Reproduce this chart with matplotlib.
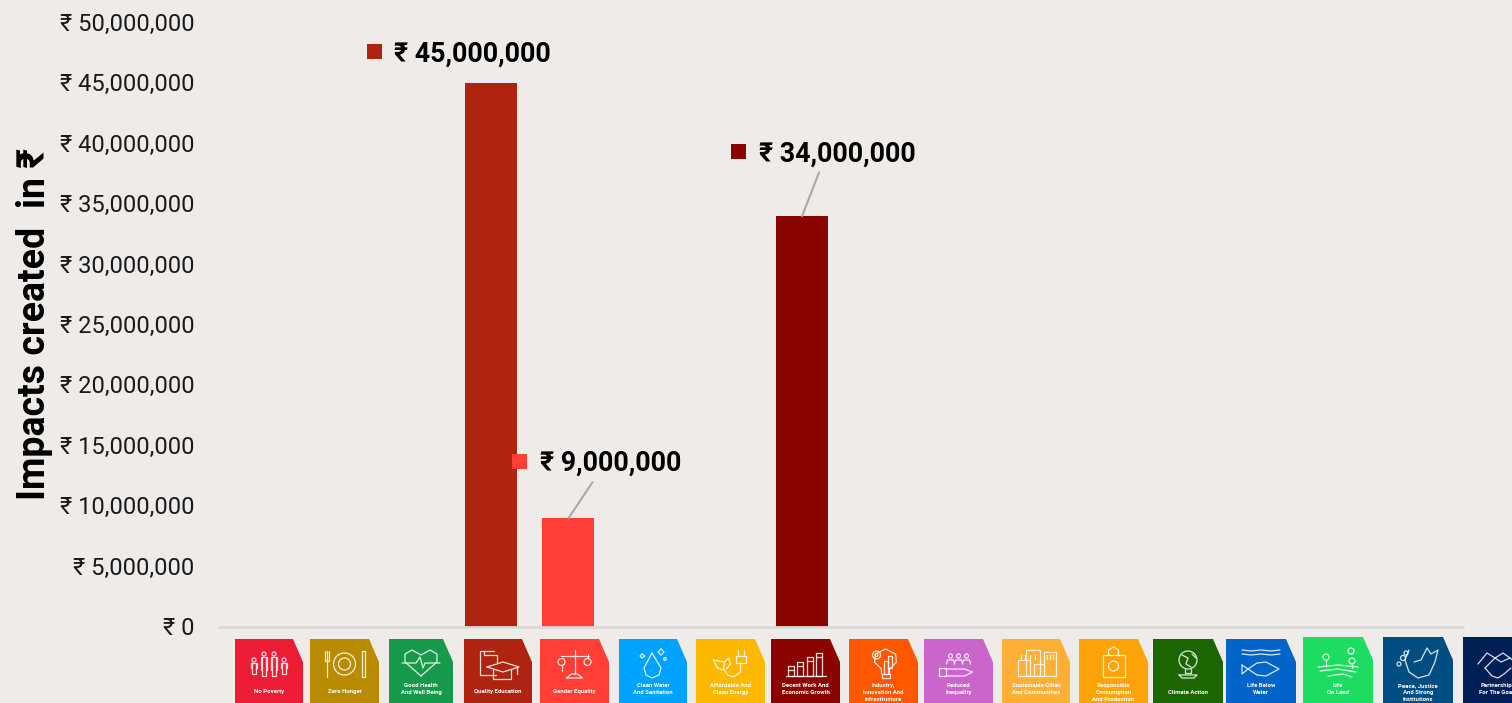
import matplotlib
matplotlib.use("Agg")
import matplotlib.pyplot as plt
import matplotlib.patches as mpatches
from matplotlib.ticker import FuncFormatter
from matplotlib.transforms import offset_copy, ScaledTranslation

plt.rcParams["font.family"] = ["Roboto", "DejaVu Sans"]

BG = "#EEEBE8"

goals = ["No Poverty", "Zero Hunger", "Good Health\nAnd Well Being", "Quality Education",
         "Gender Equality", "Clean Water\nAnd Sanitation", "Affordable And\nClean Energy",
         "Decent Work And\nEconomic Growth", "Industry,\nInnovation And\nInfrastructure",
         "Reduced\nInequality", "Sustainable Cities\nAnd Communities",
         "Responsible\nConsumption\nAnd Production", "Climate Action", "Life Below\nWater",
         "Life\nOn Land", "Peace, Justice\nAnd Strong\nInstitutions", "Partnerships\nFor The Goals"]
goal_colors = ["#EB1C34", "#B98B00", "#16994A", "#AF2410", "#FF3F35", "#00A2FF", "#FDB900",
               "#8B0500", "#FD5700", "#C965CB", "#FDAF36", "#FFA30A", "#1B6600", "#0064C8",
               "#1DDC62", "#004D82", "#001F57"]

# the chart has 16 slots, the strip of tiles under it has 17
impacts = [0, 0, 0, 45000000, 9000000, 0, 0, 34000000, 0, 0, 0, 0, 0, 0, 0, 0]
yticks = list(range(0, 50000001, 5000000))

tile_left = [235, 310, 389, 464, 540, 619, 696, 771, 849, 924, 1002, 1079, 1153, 1226, 1303, 1383, 1463]
tile_right = [303, 379, 453, 532, 609, 687, 765, 840, 918, 993, 1070, 1148, 1223, 1296, 1373, 1453, 1533]
tile_top = [639] * 14 + [637] * 3

# label offsets in pixels from bar top: text, square, end of leader line
label_style = {
    3: ((-97, 29), (-116.5, 32), None),
    4: ((-28, 55), (-49, 57), (24, 36)),
    7: ((-43.5, 62), (-64, 65), (17, 44)),
}

fig = plt.figure(figsize=(15.12, 7.03), dpi=100)
fig.patch.set_facecolor(BG)
ax = fig.add_axes([218 / 1512, 76 / 703, 1246 / 1512, 604 / 703])
ax.set_facecolor(BG)

xs = list(range(len(impacts)))
ax.bar(xs, impacts, width=0.668, color=goal_colors[:16], zorder=2)
ax.set_xlim(-0.5, 15.5)
ax.set_ylim(0, 50000000)
ax.set_xticks([])
ax.set_yticks(yticks)
ax.yaxis.set_major_formatter(FuncFormatter(lambda v, _: f"₹ {int(v):,}"))
ax.tick_params(axis="y", length=0, pad=17, labelsize=17, labelcolor="#1a1a1a")
lift = ScaledTranslation(0, 1 / 100, fig.dpi_scale_trans)
for lbl in ax.get_yticklabels():
    lbl.set_transform(lbl.get_transform() + lift)
for s in ["top", "right", "left"]:
    ax.spines[s].set_visible(False)
ax.spines["bottom"].set_color("#D9D9D9")
ax.spines["bottom"].set_linewidth(2)
ax.spines["bottom"].set_capstyle("butt")

for i, (txt_off, sq_off, line_off) in label_style.items():
    ax.annotate(f"₹ {impacts[i]:,}", (i, impacts[i]), xytext=txt_off, textcoords="offset pixels",
                ha="left", va="center", fontsize=19.25, fontweight="bold", color="black",
                annotation_clip=False)
    tr = offset_copy(ax.transData, fig=fig, x=sq_off[0], y=sq_off[1], units="dots")
    ax.plot([i], [impacts[i]], "s", ms=10.8, mew=0, color=goal_colors[i], transform=tr, clip_on=False)
    if line_off:
        ax.annotate("", (i, impacts[i]), xytext=line_off, textcoords="offset pixels",
                    arrowprops=dict(arrowstyle="-", color="#A6A6A6", lw=1.4, shrinkA=0, shrinkB=0))

fig.text(35 / 1512, 1 - 324 / 703, "Impacts created  in ₹", rotation=90, ha="center", va="center",
         fontsize=27, fontweight="bold", color="black")

# pixel overlay for the goal tiles
ov = fig.add_axes([0, 0, 1, 1])
ov.set_xlim(0, 1512)
ov.set_ylim(703, 0)
ov.axis("off")
ov.patch.set_alpha(0)


def pl(cx, pts, closed=False):
    px = [cx + p[0] for p in pts]
    py = [p[1] for p in pts]
    if closed:
        px.append(px[0])
        py.append(py[0])
    ov.plot(px, py, color="white", lw=0.9, alpha=0.85, solid_capstyle="round")


def circ(cx, x, y, r):
    ov.add_patch(mpatches.Circle((cx + x, y), r, fill=False, ec="white", lw=0.9, alpha=0.85))


def box(cx, x0, y0, x1, y1):
    pl(cx, [(x0, y0), (x1, y0), (x1, y1), (x0, y1)], True)


def icon(i, c):
    if i == 0:
        for x, y, h in [(-15, 662, 12), (-5, 656, 20), (5, 656, 20), (15, 662, 12)]:
            circ(c, x, y - 2, 2)
            pl(c, [(x - 3, y + h - 6), (x - 3, y + 1), (x + 3, y + 1), (x + 3, y + h - 6)])
            pl(c, [(x - 2, y + 1), (x - 2, y + h), (x + 2, y + h), (x + 2, y + 1)])
    elif i == 1:
        circ(c, 0, 664, 11)
        circ(c, 0, 664, 6)
        pl(c, [(-18, 651), (-18, 677)])
        pl(c, [(-20, 651), (-20, 661), (-16, 661), (-16, 651)])
        pl(c, [(17, 651), (20, 651), (20, 677), (17, 677)], True)
    elif i == 2:
        pl(c, [(0, 676), (-16, 662), (-16, 654), (-9, 650), (0, 655), (9, 650), (16, 654), (16, 662)], True)
        pl(c, [(-19, 663), (-5, 663), (-1, 657), (2, 668), (4, 663), (19, 663)])
    elif i == 3:
        pl(c, [(-4, 651), (-18, 651), (-18, 675), (-2, 675)])
        pl(c, [(-14, 651), (-14, 655), (-1, 655), (-1, 663)])
        pl(c, [(-11, 667), (5, 662), (21, 667), (5, 672)], True)
        pl(c, [(-5, 670), (-5, 679), (13, 679), (13, 670)])
        pl(c, [(19, 667), (19, 674)])
    elif i == 4:
        pl(c, [(0, 650), (0, 674)])
        pl(c, [(-14, 656), (14, 656)])
        pl(c, [(-8, 678), (-3, 674), (3, 674), (8, 678)], True)
        circ(c, -13, 662, 3.5)
        circ(c, 13, 662, 3.5)
        pl(c, [(-13, 665), (-13, 671)])
        pl(c, [(13, 654), (13, 658)])
    elif i == 5:
        pl(c, [(-1, 653), (-9, 668), (-7, 675), (-1, 678), (6, 675), (8, 668)], True)
        pl(c, [(8, 649), (11, 652), (8, 655), (5, 652)], True)
        pl(c, [(-11, 654), (-8, 656), (-11, 658), (-13, 656)], True)
        circ(c, 12, 659, 1.3)
    elif i == 6:
        pl(c, [(-17, 660), (-6, 662), (-7, 670), (-13, 668)], True)
        pl(c, [(-6, 662), (-2, 658), (0, 664), (-4, 669)])
        box(c, 5, 656, 15, 663)
        pl(c, [(7, 650), (7, 656)])
        pl(c, [(13, 650), (13, 656)])
        pl(c, [(10, 663), (10, 672), (3, 677), (-3, 675), (-6, 670)])
    elif i == 7:
        for k, h in enumerate([10, 14, 19, 23]):
            box(c, -18 + k * 9.5, 676 - h, -12 + k * 9.5, 676)
            pl(c, [(-18 + k * 9.5, 680 - h), (-12 + k * 9.5, 680 - h)])
        pl(c, [(-20, 676), (20, 676)])
    elif i == 8:
        pl(c, [(-2, 674), (-2, 669), (-9, 662), (-8, 654), (2, 649), (12, 654), (13, 662), (6, 669), (6, 674)])
        circ(c, -7, 655, 4)
        circ(c, -7, 655, 1.5)
        box(c, -2, 674, 6, 678)
        box(c, 0, 661, 4, 674)
        box(c, 4, 656, 8, 668)
    elif i == 9:
        for x in [-8, 0, 8]:
            circ(c, x, 656, 2)
            pl(c, [(x - 4, 664), (x - 3, 660), (x + 3, 660), (x + 4, 664)])
        box(c, -20, 668, -13, 676)
        pl(c, [(-13, 669), (6, 669), (14, 672), (6, 676), (-13, 676)])
    elif i == 10:
        box(c, -18, 660, -6, 676)
        box(c, -10, 650, 4, 676)
        box(c, 8, 652, 20, 676)
        box(c, -2, 664, 8, 676)
        for x in [-15, -11, -6, -1, 11, 14, 17]:
            pl(c, [(x, 655), (x, 659)])
    elif i == 11:
        box(c, -11, 655, 11, 677)
        pl(c, [(-5, 655), (-5, 650), (0, 647), (5, 650), (5, 655)])
        circ(c, 0, 666, 5)
    elif i == 12:
        circ(c, 0, 660, 9)
        pl(c, [(-6, 655), (0, 658), (-2, 664), (3, 667)])
        pl(c, [(4, 654), (8, 658)])
        pl(c, [(-3, 669), (-3, 673), (3, 673), (3, 669)])
        pl(c, [(-9, 675), (9, 675), (6, 678), (-6, 678)], True)
    elif i == 13:
        for y in [650, 654]:
            pl(c, [(-19, y), (-10, y + 1), (0, y), (10, y + 1), (19, y)])
        pl(c, [(-19, 665), (-13, 669), (-4, 663), (5, 662), (18, 669), (5, 676), (-4, 675), (-13, 669), (-19, 674)], True)
    elif i == 14:
        circ(c, 13, 651, 3)
        circ(c, -12, 657, 3)
        circ(c, 14, 661, 3)
        pl(c, [(-20, 667), (0, 665), (20, 667)])
        pl(c, [(-18, 671), (0, 669), (18, 672)])
        pl(c, [(-10, 676), (5, 674), (14, 677)])
        pl(c, [(-12, 660), (-12, 666)])
        pl(c, [(14, 664), (14, 668)])
    elif i == 15:
        pl(c, [(-9, 650), (-13, 660), (-9, 672), (0, 678), (11, 675), (17, 662), (20, 650), (13, 654), (9, 648), (3, 660), (-4, 662)])
        circ(c, -15, 658, 2.5)
        circ(c, -19, 664, 2)
        circ(c, -12, 653, 2)
    else:
        pl(c, [(-20, 664), (-11, 653), (-3, 658), (5, 653), (12, 658), (20, 664)])
        pl(c, [(-13, 668), (-3, 658), (3, 662), (12, 658)])
        pl(c, [(-13, 668), (-6, 676), (0, 678), (6, 674), (13, 668)])


for i, name in enumerate(goals):
    x0, x1, top = tile_left[i], tile_right[i], tile_top[i]
    ov.add_patch(mpatches.Polygon([(x0, top), (x1 - 10, top), (x1, top + 23), (x1, 710), (x0, 710)],
                                  closed=True, fc=goal_colors[i], ec="none"))
    c = (x0 + x1) / 2
    icon(i, c)
    nlines = name.count("\n") + 1
    y0 = {1: 692, 2: 685.5, 3: 685.5}[nlines]
    for k, line in enumerate(name.split("\n")):
        ov.text(c, y0 + k * 6.8, line, color="white", fontsize=4.3, fontweight="bold",
                ha="center", va="center", clip_on=True)

fig.savefig("out.png", dpi=100, facecolor=fig.get_facecolor())
